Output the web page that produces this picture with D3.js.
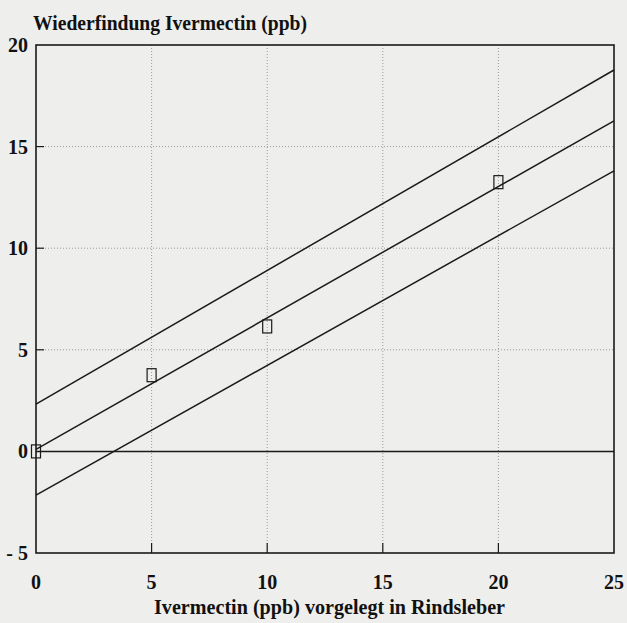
<html>
	<head>
		<style>
			body {
			  margin: 0;
			  background: #eeeeec;
			}

			text {
			  font-family: "Liberation Serif", "DejaVu Serif", serif;
			  font-weight: bold;
			  fill: #111;
			}

			.grid line {
			  stroke: #9a9a9a;
			  stroke-width: 1px;
			  stroke-dasharray: 1,2;
			}

			.fit path {
			  fill: none;
			  stroke: #1a1a1a;
			  stroke-width: 1.5px;
			}

			.points rect {
			  fill: none;
			  stroke: #1a1a1a;
			  stroke-width: 1.2px;
			}
		</style>

		<script src="https://cdn.jsdelivr.net/npm/d3@7"></script>
	</head>
	<body>
		<div id="chart">
			<svg></svg>
		</div>
		<script>
			var width = 627;
			var height = 623;

			// Measured points (x = vorgelegt, y = wiedergefunden)
			var spikedPpb = [0, 5, 10, 20];
			var foundPpb = [0.0, 3.75, 6.15, 13.25];

			// Regression line with its confidence band, values at x = 0 and x = 25
			var lineX = [0, 25];
			var upperY = [2.33, 18.77];
			var fitY = [0.10, 16.27];
			var lowerY = [-2.15, 13.81];

			var xTicks = [0, 5, 10, 15, 20, 25];
			var yTicks = [-5, 0, 5, 10, 15, 20];

			var titleY = "Wiederfindung Ivermectin (ppb)";
			var titleX = "Ivermectin (ppb) vorgelegt in Rindsleber";

			var x = d3.scaleLinear().domain([0, 25]).range([36, 614]);
			var y = d3.scaleLinear().domain([-5, 20]).range([553, 45]);

			var svg = d3.select("svg")
				.attr("width", width)
				.attr("height", height);

			svg.append("rect")
				.attr("width", width)
				.attr("height", height)
				.attr("fill", "#eeeeec");

			addGrid();
			addTicks();
			addLines();
			addPoints();
			addFrame();
			addLabels();

			function addGrid() {
				var grid = svg.append("g").attr("class", "grid");
				grid.selectAll(".gx")
					.data(xTicks.filter(function(d) { return d > 0 && d < 25; }))
					.enter().append("line")
						.attr("x1", function(d) { return x(d); })
						.attr("x2", function(d) { return x(d); })
						.attr("y1", y(20))
						.attr("y2", y(-5));
				grid.selectAll(".gy")
					.data(yTicks.filter(function(d) { return d > 0 && d < 20; }))
					.enter().append("line")
						.attr("x1", x(0))
						.attr("x2", x(25))
						.attr("y1", function(d) { return y(d); })
						.attr("y2", function(d) { return y(d); });

				// solid zero line
				svg.append("line")
					.attr("x1", x(0))
					.attr("x2", x(25))
					.attr("y1", y(0))
					.attr("y2", y(0))
					.attr("stroke", "#1a1a1a")
					.attr("stroke-width", 1.5);
			}

			function addTicks() {
				svg.append("g")
					.selectAll("line")
					.data(xTicks.filter(function(d) { return d > 0 && d < 25; }))
					.enter().append("line")
						.attr("x1", function(d) { return x(d); })
						.attr("x2", function(d) { return x(d); })
						.attr("y1", y(-5))
						.attr("y2", y(-5) - 10)
						.attr("stroke", "#1a1a1a")
						.attr("stroke-width", 1.2);
				svg.append("g")
					.selectAll("line")
					.data(yTicks.filter(function(d) { return d > 0 && d < 20; }))
					.enter().append("line")
						.attr("x1", x(0))
						.attr("x2", x(0) + 8)
						.attr("y1", function(d) { return y(d); })
						.attr("y2", function(d) { return y(d); })
						.attr("stroke", "#1a1a1a")
						.attr("stroke-width", 1.2);
			}

			function addLines() {
				var line = d3.line()
					.x(function(d) { return x(d[0]); })
					.y(function(d) { return y(d[1]); });
				var g = svg.append("g").attr("class", "fit");
				[upperY, fitY, lowerY].forEach(function(ys) {
					g.append("path").attr("d", line(d3.zip(lineX, ys)));
				});
			}

			function addPoints() {
				svg.append("g")
						.attr("class", "points")
					.selectAll("rect")
					.data(d3.zip(spikedPpb, foundPpb))
					.enter().append("rect")
						.attr("x", function(d) { return x(d[0]) - 4.5; })
						.attr("y", function(d) { return y(d[1]) - 6.5; })
						.attr("width", 9)
						.attr("height", 13);
			}

			function addFrame() {
				svg.append("rect")
					.attr("x", x(0))
					.attr("y", y(20))
					.attr("width", x(25) - x(0))
					.attr("height", y(-5) - y(20))
					.attr("fill", "none")
					.attr("stroke", "#1a1a1a")
					.attr("stroke-width", 1.6);
			}

			function addLabels() {
				svg.append("g")
					.selectAll("text")
					.data(yTicks)
					.enter().append("text")
						.attr("x", 28)
						.attr("y", function(d) { return y(d) + 7; })
						.attr("text-anchor", "end")
						.style("font-size", "20px")
						.text(function(d) { return d < 0 ? "- " + Math.abs(d) : d; });

				svg.append("g")
					.selectAll("text")
					.data(xTicks)
					.enter().append("text")
						.attr("x", function(d) { return x(d); })
						.attr("y", 589)
						.attr("text-anchor", "middle")
						.style("font-size", "20px")
						.text(function(d) { return d; });

				svg.append("text")
					.attr("x", 33)
					.attr("y", 30)
					.attr("textLength", 274)
					.attr("lengthAdjust", "spacingAndGlyphs")
					.style("font-size", "20px")
					.text(titleY);

				svg.append("text")
					.attr("x", 154)
					.attr("y", 614)
					.attr("textLength", 351)
					.attr("lengthAdjust", "spacingAndGlyphs")
					.style("font-size", "20px")
					.text(titleX);
			}
		</script>
	</body>
</html>
